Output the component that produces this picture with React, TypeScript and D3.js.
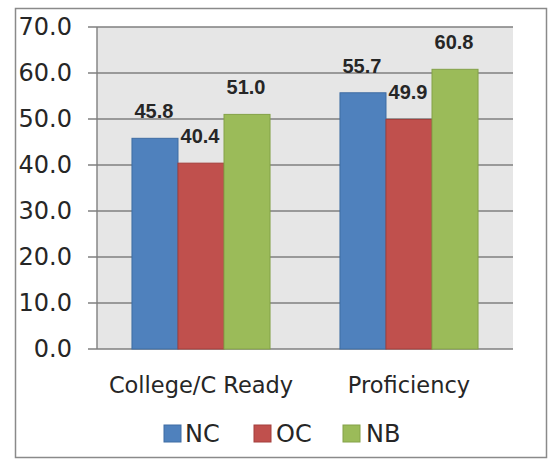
import React from "react";
import * as d3 from "d3";

const categories = ["College/C Ready", "Proficiency"];
const seriesNames = ["NC", "OC", "NB"];
const NC = [45.8, 55.7];
const OC = [40.4, 49.9];
const NB = [51.0, 60.8];
const seriesValues = [NC, OC, NB];
const colors = ["#4F81BD", "#C0504D", "#9BBB59"];
const strokes = ["#3E6CA3", "#A43F3C", "#84A248"];
const yTicks = [0, 10, 20, 30, 40, 50, 60, 70];

const W = 552;
const H = 468;
const plotL = 97;
const plotR = 513;
const plotT = 27;
const plotB = 349;

export default function App() {
  const x0 = d3.scaleBand<string>().domain(categories).range([plotL, plotR]).padding(0);
  const x1 = d3
    .scaleBand<string>()
    .domain(seriesNames)
    .range([0, x0.bandwidth()])
    .paddingInner(0)
    .paddingOuter(0.76);
  const y = d3.scaleLinear().domain([0, 70]).range([plotB, plotT]);

  const legendItems = [
    { name: "NC", sx: 164, tx: 185 },
    { name: "OC", sx: 254, tx: 276 },
    { name: "NB", sx: 343, tx: 366 },
  ];

  return (
    <svg
      width={W}
      height={H}
      style={{ position: "absolute", left: 0, top: 0, background: "#fff" }}
    >
      <rect x={15.5} y={8.5} width={531} height={449} fill="#fff" stroke="#8a8a8a" strokeWidth={1.5} />
      <rect x={plotL} y={plotT} width={plotR - plotL} height={plotB - plotT} fill="#e6e6e6" />
      {yTicks.map((t) => (
        <g key={t}>
          <line x1={88} x2={plotR} y1={y(t)} y2={y(t)} stroke="#7f7f7f" strokeWidth={1.4} />
          <text
            x={72}
            y={y(t) + 8}
            textAnchor="end"
            fontFamily="DejaVu Sans"
            fontSize={24}
            fill="#262626"
          >
            {t.toFixed(1)}
          </text>
        </g>
      ))}
      <line x1={plotL} x2={plotL} y1={plotT} y2={plotB} stroke="#7f7f7f" strokeWidth={1.4} />
      {categories.map((c, ci) => (
        <g key={c}>
          {seriesNames.map((s, si) => {
            const v = seriesValues[si][ci];
            const bx = (x0(c) as number) + (x1(s) as number);
            const bw = x1.bandwidth();
            return (
              <g key={s}>
                <rect
                  x={bx}
                  y={y(v)}
                  width={bw}
                  height={plotB - y(v)}
                  fill={colors[si]}
                  stroke={strokes[si]}
                  strokeWidth={1}
                />
                <text
                  x={bx + bw / 2 - 1}
                  y={y(v) - 20}
                  textAnchor="middle"
                  fontFamily="Liberation Sans"
                  fontWeight="bold"
                  fontSize={20}
                  fill="#262626"
                >
                  {v.toFixed(1)}
                </text>
              </g>
            );
          })}
          <text
            x={(x0(c) as number) + x0.bandwidth() / 2}
            y={393}
            textAnchor="middle"
            fontFamily="DejaVu Sans"
            fontSize={22.5}
            fill="#262626"
          >
            {c}
          </text>
        </g>
      ))}
      {legendItems.map((l, i) => (
        <g key={l.name}>
          <rect x={l.sx} y={425} width={17} height={17} fill={colors[i]} stroke={strokes[i]} strokeWidth={1} />
          <text x={l.tx} y={442} fontFamily="DejaVu Sans" fontSize={24} fill="#262626">
            {seriesNames[i]}
          </text>
        </g>
      ))}
    </svg>
  );
}
